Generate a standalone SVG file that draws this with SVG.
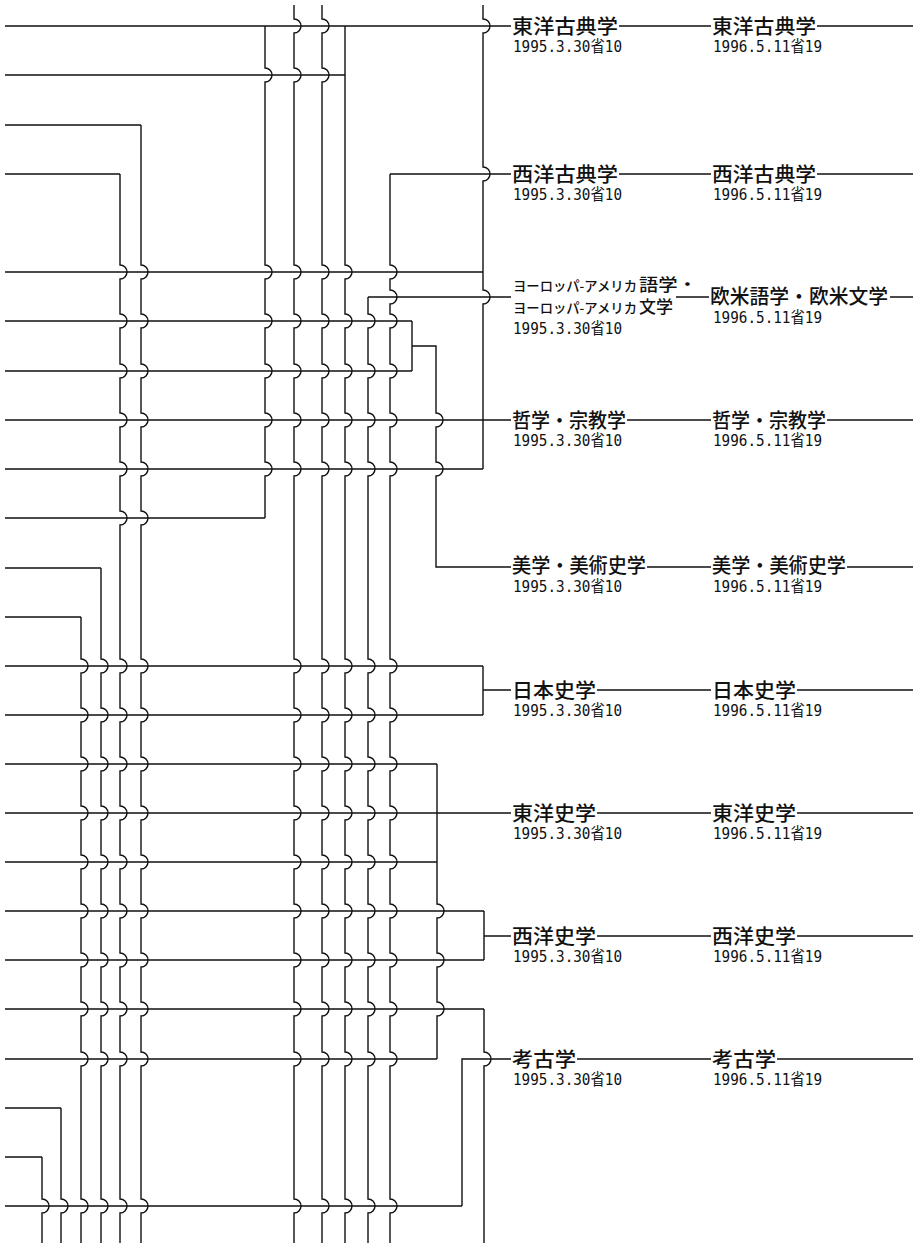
<svg xmlns="http://www.w3.org/2000/svg" width="919" height="1247" viewBox="0 0 919 1247">
<style>
.ln{fill:none;stroke:#111;stroke-width:1.4}
.lb{font-family:'Noto Sans CJK JP',sans-serif;font-size:20px;font-weight:500;fill:#111}
.ks{font-family:'Noto Sans CJK JP',sans-serif;font-size:13.5px;font-weight:500;fill:#111}
.kk{font-size:16.5px}
.dt{font-family:'DejaVu Sans Mono','Noto Sans CJK JP',monospace;font-size:15.5px;fill:#111}
</style>
<rect width="919" height="1247" fill="#fff"/>
<g id="connectors" class="ln">
<path d="M5 26H511M5 75H345M5 125H141M5 174H120M390 174H511M5 272H483M368 297H511M5 321H412M5 371H412M5 420H511M5 469H483M5 518H265M5 568H101M5 617H81M5 666H483M5 715H483M5 764H437M5 813H511M5 862H437M5 911H484M5 960H484M5 1009H484M5 1059H437M5 1108H61M5 1157H42M5 1206H462"/>
<path d="M120 174V265a7 7 0 0 1 0 14V314a7 7 0 0 1 0 14V364a7 7 0 0 1 0 14V413a7 7 0 0 1 0 14V462a7 7 0 0 1 0 14V511a7 7 0 0 1 0 14V659a7 7 0 0 1 0 14V708a7 7 0 0 1 0 14V757a7 7 0 0 1 0 14V806a7 7 0 0 1 0 14V855a7 7 0 0 1 0 14V904a7 7 0 0 1 0 14V953a7 7 0 0 1 0 14V1002a7 7 0 0 1 0 14V1052a7 7 0 0 1 0 14V1199a7 7 0 0 1 0 14V1243"/>
<path d="M141 125V265a7 7 0 0 1 0 14V314a7 7 0 0 1 0 14V364a7 7 0 0 1 0 14V413a7 7 0 0 1 0 14V462a7 7 0 0 1 0 14V511a7 7 0 0 1 0 14V659a7 7 0 0 1 0 14V708a7 7 0 0 1 0 14V757a7 7 0 0 1 0 14V806a7 7 0 0 1 0 14V855a7 7 0 0 1 0 14V904a7 7 0 0 1 0 14V953a7 7 0 0 1 0 14V1002a7 7 0 0 1 0 14V1052a7 7 0 0 1 0 14V1199a7 7 0 0 1 0 14V1243"/>
<path d="M101 568V659a7 7 0 0 1 0 14V708a7 7 0 0 1 0 14V757a7 7 0 0 1 0 14V806a7 7 0 0 1 0 14V855a7 7 0 0 1 0 14V904a7 7 0 0 1 0 14V953a7 7 0 0 1 0 14V1002a7 7 0 0 1 0 14V1052a7 7 0 0 1 0 14V1199a7 7 0 0 1 0 14V1243"/>
<path d="M81 617V659a7 7 0 0 1 0 14V708a7 7 0 0 1 0 14V757a7 7 0 0 1 0 14V806a7 7 0 0 1 0 14V855a7 7 0 0 1 0 14V904a7 7 0 0 1 0 14V953a7 7 0 0 1 0 14V1002a7 7 0 0 1 0 14V1052a7 7 0 0 1 0 14V1199a7 7 0 0 1 0 14V1243"/>
<path d="M61 1108V1199a7 7 0 0 1 0 14V1243"/>
<path d="M42 1157V1199a7 7 0 0 1 0 14V1243"/>
<path d="M265 26V68a7 7 0 0 1 0 14V265a7 7 0 0 1 0 14V314a7 7 0 0 1 0 14V364a7 7 0 0 1 0 14V413a7 7 0 0 1 0 14V462a7 7 0 0 1 0 14V518"/>
<path d="M294 5V19a7 7 0 0 1 0 14V68a7 7 0 0 1 0 14V265a7 7 0 0 1 0 14V314a7 7 0 0 1 0 14V364a7 7 0 0 1 0 14V413a7 7 0 0 1 0 14V462a7 7 0 0 1 0 14V659a7 7 0 0 1 0 14V708a7 7 0 0 1 0 14V757a7 7 0 0 1 0 14V806a7 7 0 0 1 0 14V855a7 7 0 0 1 0 14V904a7 7 0 0 1 0 14V953a7 7 0 0 1 0 14V1002a7 7 0 0 1 0 14V1052a7 7 0 0 1 0 14V1199a7 7 0 0 1 0 14V1243"/>
<path d="M322 5V19a7 7 0 0 1 0 14V68a7 7 0 0 1 0 14V265a7 7 0 0 1 0 14V314a7 7 0 0 1 0 14V364a7 7 0 0 1 0 14V413a7 7 0 0 1 0 14V462a7 7 0 0 1 0 14V659a7 7 0 0 1 0 14V708a7 7 0 0 1 0 14V757a7 7 0 0 1 0 14V806a7 7 0 0 1 0 14V855a7 7 0 0 1 0 14V904a7 7 0 0 1 0 14V953a7 7 0 0 1 0 14V1002a7 7 0 0 1 0 14V1052a7 7 0 0 1 0 14V1199a7 7 0 0 1 0 14V1243"/>
<path d="M345 26V265a7 7 0 0 1 0 14V314a7 7 0 0 1 0 14V364a7 7 0 0 1 0 14V413a7 7 0 0 1 0 14V462a7 7 0 0 1 0 14V659a7 7 0 0 1 0 14V708a7 7 0 0 1 0 14V757a7 7 0 0 1 0 14V806a7 7 0 0 1 0 14V855a7 7 0 0 1 0 14V904a7 7 0 0 1 0 14V953a7 7 0 0 1 0 14V1002a7 7 0 0 1 0 14V1052a7 7 0 0 1 0 14V1199a7 7 0 0 1 0 14V1243"/>
<path d="M368 297V314a7 7 0 0 1 0 14V364a7 7 0 0 1 0 14V413a7 7 0 0 1 0 14V462a7 7 0 0 1 0 14V659a7 7 0 0 1 0 14V708a7 7 0 0 1 0 14V757a7 7 0 0 1 0 14V806a7 7 0 0 1 0 14V855a7 7 0 0 1 0 14V904a7 7 0 0 1 0 14V953a7 7 0 0 1 0 14V1002a7 7 0 0 1 0 14V1052a7 7 0 0 1 0 14V1199a7 7 0 0 1 0 14V1243"/>
<path d="M390 174V265a7 7 0 0 1 0 14V290a7 7 0 0 1 0 14V314a7 7 0 0 1 0 14V364a7 7 0 0 1 0 14V413a7 7 0 0 1 0 14V462a7 7 0 0 1 0 14V659a7 7 0 0 1 0 14V708a7 7 0 0 1 0 14V757a7 7 0 0 1 0 14V806a7 7 0 0 1 0 14V855a7 7 0 0 1 0 14V904a7 7 0 0 1 0 14V953a7 7 0 0 1 0 14V1002a7 7 0 0 1 0 14V1052a7 7 0 0 1 0 14V1199a7 7 0 0 1 0 14V1243"/>
<path d="M412 321V371M412 346H436V413a7 7 0 0 1 0 14V462a7 7 0 0 1 0 14V567H511"/>
<path d="M483 5V19a7 7 0 0 1 0 14V167a7 7 0 0 1 0 14V290a7 7 0 0 1 0 14V469"/>
<path d="M483 666V715M483 690H511"/>
<path d="M437 764V904a7 7 0 0 1 0 14V953a7 7 0 0 1 0 14V1002a7 7 0 0 1 0 14V1059"/>
<path d="M484 911V960M484 936H511"/>
<path d="M484 1009V1052a7 7 0 0 1 0 14V1243"/>
<path d="M462 1206V1059H511"/>
<path d="M619 26H711M817 26H913M619 174H711M817 174H913M676 297H709M890 297H913M627 420H711M827 420H913M647 567H711M847 567H913M597 690H711M797 690H913M597 813H711M797 813H913M597 936H711M797 936H913M577 1059H711M777 1059H913"/>
</g>
<g id="n-toyo-koten-1995"><text class="lb" x="512" y="34" textLength="106" lengthAdjust="spacingAndGlyphs">東洋古典学</text><text class="dt" x="513" y="52" textLength="109" lengthAdjust="spacingAndGlyphs">1995.3.30省10</text></g>
<g id="n-toyo-koten-1996"><text class="lb" x="712" y="34" textLength="104" lengthAdjust="spacingAndGlyphs">東洋古典学</text><text class="dt" x="713" y="52" textLength="109" lengthAdjust="spacingAndGlyphs">1996.5.11省19</text></g>
<g id="n-seiyo-koten-1995"><text class="lb" x="512" y="182" textLength="106" lengthAdjust="spacingAndGlyphs">西洋古典学</text><text class="dt" x="513" y="200" textLength="109" lengthAdjust="spacingAndGlyphs">1995.3.30省10</text></g>
<g id="n-seiyo-koten-1996"><text class="lb" x="712" y="182" textLength="104" lengthAdjust="spacingAndGlyphs">西洋古典学</text><text class="dt" x="713" y="200" textLength="109" lengthAdjust="spacingAndGlyphs">1996.5.11省19</text></g>
<g id="n-europe-america-1995"><text class="ks"><tspan x="513" y="291" textLength="124" lengthAdjust="spacingAndGlyphs">ヨーロッパ-アメリカ</tspan><tspan class="kk" x="639" y="291" textLength="58" lengthAdjust="spacingAndGlyphs">語学・</tspan><tspan x="513" y="313" textLength="124" lengthAdjust="spacingAndGlyphs">ヨーロッパ-アメリカ</tspan><tspan class="kk" x="639" y="313" textLength="34" lengthAdjust="spacingAndGlyphs">文学</tspan></text><text class="dt" x="513" y="334" textLength="109" lengthAdjust="spacingAndGlyphs">1995.3.30省10</text></g>
<g id="n-obei-1996"><text class="lb" x="710" y="304" textLength="178" lengthAdjust="spacingAndGlyphs">欧米語学・欧米文学</text><text class="dt" x="713" y="323" textLength="109" lengthAdjust="spacingAndGlyphs">1996.5.11省19</text></g>
<g id="n-tetsugaku-1995"><text class="lb" x="512" y="428" textLength="114" lengthAdjust="spacingAndGlyphs">哲学・宗教学</text><text class="dt" x="513" y="446" textLength="109" lengthAdjust="spacingAndGlyphs">1995.3.30省10</text></g>
<g id="n-tetsugaku-1996"><text class="lb" x="712" y="428" textLength="114" lengthAdjust="spacingAndGlyphs">哲学・宗教学</text><text class="dt" x="713" y="446" textLength="109" lengthAdjust="spacingAndGlyphs">1996.5.11省19</text></g>
<g id="n-bigaku-1995"><text class="lb" x="512" y="573" textLength="134" lengthAdjust="spacingAndGlyphs">美学・美術史学</text><text class="dt" x="513" y="592" textLength="109" lengthAdjust="spacingAndGlyphs">1995.3.30省10</text></g>
<g id="n-bigaku-1996"><text class="lb" x="712" y="573" textLength="134" lengthAdjust="spacingAndGlyphs">美学・美術史学</text><text class="dt" x="713" y="592" textLength="109" lengthAdjust="spacingAndGlyphs">1996.5.11省19</text></g>
<g id="n-nihonshi-1995"><text class="lb" x="512" y="698" textLength="84" lengthAdjust="spacingAndGlyphs">日本史学</text><text class="dt" x="513" y="716" textLength="109" lengthAdjust="spacingAndGlyphs">1995.3.30省10</text></g>
<g id="n-nihonshi-1996"><text class="lb" x="712" y="698" textLength="84" lengthAdjust="spacingAndGlyphs">日本史学</text><text class="dt" x="713" y="716" textLength="109" lengthAdjust="spacingAndGlyphs">1996.5.11省19</text></g>
<g id="n-toyoshi-1995"><text class="lb" x="512" y="821" textLength="84" lengthAdjust="spacingAndGlyphs">東洋史学</text><text class="dt" x="513" y="839" textLength="109" lengthAdjust="spacingAndGlyphs">1995.3.30省10</text></g>
<g id="n-toyoshi-1996"><text class="lb" x="712" y="821" textLength="84" lengthAdjust="spacingAndGlyphs">東洋史学</text><text class="dt" x="713" y="839" textLength="109" lengthAdjust="spacingAndGlyphs">1996.5.11省19</text></g>
<g id="n-seiyoshi-1995"><text class="lb" x="512" y="944" textLength="84" lengthAdjust="spacingAndGlyphs">西洋史学</text><text class="dt" x="513" y="962" textLength="109" lengthAdjust="spacingAndGlyphs">1995.3.30省10</text></g>
<g id="n-seiyoshi-1996"><text class="lb" x="712" y="944" textLength="84" lengthAdjust="spacingAndGlyphs">西洋史学</text><text class="dt" x="713" y="962" textLength="109" lengthAdjust="spacingAndGlyphs">1996.5.11省19</text></g>
<g id="n-kokogaku-1995"><text class="lb" x="512" y="1067" textLength="64" lengthAdjust="spacingAndGlyphs">考古学</text><text class="dt" x="513" y="1085" textLength="109" lengthAdjust="spacingAndGlyphs">1995.3.30省10</text></g>
<g id="n-kokogaku-1996"><text class="lb" x="712" y="1067" textLength="64" lengthAdjust="spacingAndGlyphs">考古学</text><text class="dt" x="713" y="1085" textLength="109" lengthAdjust="spacingAndGlyphs">1996.5.11省19</text></g>
</svg>
